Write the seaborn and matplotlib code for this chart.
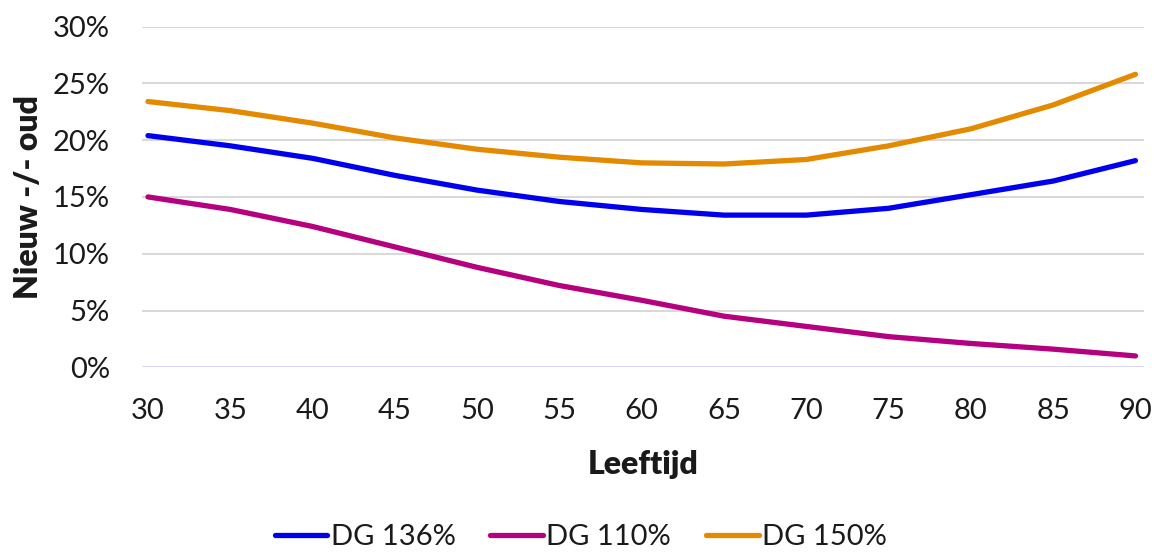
import matplotlib
matplotlib.use("Agg")
import matplotlib.pyplot as plt
import matplotlib.ticker as mticker
import pandas as pd
import seaborn as sns

# Leeftijd (jaren)
ages = [30, 35, 40, 45, 50, 55, 60, 65, 70, 75, 80, 85, 90]

# Verschil nieuw -/- oud (%) per scenario
dg136 = [20.4, 19.5, 18.4, 16.9, 15.6, 14.6, 13.9, 13.4, 13.4, 14.0, 15.2, 16.4, 18.2]
dg110 = [15.0, 13.9, 12.4, 10.6, 8.8, 7.2, 5.9, 4.5, 3.6, 2.7, 2.1, 1.6, 1.0]
dg150 = [23.4, 22.6, 21.5, 20.2, 19.2, 18.5, 18.0, 17.9, 18.3, 19.5, 21.0, 23.1, 25.8]

series_names = ["DG 136%", "DG 110%", "DG 150%"]
series_values = [dg136, dg110, dg150]
colors = ["#0000EE", "#B5007F", "#E38A00"]

df = pd.DataFrame(
    [(a, v / 100.0, name)
     for name, vals in zip(series_names, series_values)
     for a, v in zip(ages, vals)],
    columns=["Leeftijd", "Waarde", "Scenario"],
)

sns.set_theme(style="white")
plt.rcParams["font.family"] = ["Lato", "DejaVu Sans"]

fig = plt.figure(figsize=(11.57, 5.54), dpi=100)
ax = fig.add_axes([0.1225, 0.337, 0.866, 0.615])

# horizontal gridlines
for yv in [0.05, 0.10, 0.15, 0.20, 0.25, 0.30]:
    ax.axhline(yv, color="#D9D9D9", lw=1.5, zorder=0)
ax.axhline(0.0, color="#D9D9F7", lw=1.5, zorder=0)

sns.lineplot(
    data=df, x="Leeftijd", y="Waarde", hue="Scenario",
    hue_order=series_names, palette=colors, lw=3.8,
    solid_capstyle="round", ax=ax, legend=True,
)

ax.set_xlim(29.62, 90.5)
ax.set_ylim(0, 0.30)
ax.set_xticks(range(30, 91, 5))
ax.set_yticks([0, 0.05, 0.10, 0.15, 0.20, 0.25, 0.30])
ax.yaxis.set_major_formatter(mticker.FuncFormatter(lambda v, p: f"{v*100:.0f}%"))
ax.tick_params(axis="both", labelsize=21, colors="#1A1A1A", length=0)
ax.tick_params(axis="x", pad=22)
ax.tick_params(axis="y", pad=23)
for s in ax.spines.values():
    s.set_visible(False)

ax.set_xlabel("Leeftijd", fontsize=23, fontweight="heavy", color="#1A1A1A", labelpad=19)
ax.set_ylabel("Nieuw -/- oud", fontsize=23, fontweight="heavy", color="#1A1A1A", labelpad=7)

handles, labels = ax.get_legend_handles_labels()
ax.legend(
    handles, labels, loc="center", bbox_to_anchor=(0.502, 0.03),
    bbox_transform=fig.transFigure, ncol=3, frameon=False,
    fontsize=21, handlelength=1.8, handletextpad=0.12, columnspacing=1.2,
    labelcolor="#1A1A1A", borderpad=0.1,
)

fig.savefig("out.png", dpi=100, facecolor="white")
